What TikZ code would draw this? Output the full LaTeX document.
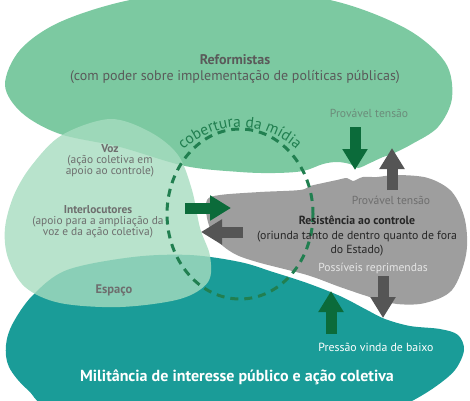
\documentclass[tikz,border=0pt]{standalone}
\usepackage{fontspec}
\setmainfont{PT Sans}
\usetikzlibrary{arrows.meta,decorations.text}
\definecolor{reformgreen}{HTML}{7CC9A1}
\definecolor{vozgreen}{HTML}{A6DCBF}
\definecolor{militeal}{HTML}{1A9C98}
\definecolor{resistgrey}{HTML}{9E9E9E}
\definecolor{arrowgreen}{HTML}{0B6B3A}
\definecolor{arrowgrey}{HTML}{555555}
\definecolor{mediagreen}{HTML}{217F50}
\definecolor{labelgrey}{HTML}{5A5A5A}
\definecolor{softgrey}{HTML}{6E6E6E}
\definecolor{tensiongreen}{HTML}{6B8C7A}
\begin{document}
\begin{tikzpicture}[x=1pt,y=-1pt,
    blob/.style={smooth cycle,tension=0.55},
    bigarrow/.style={line width=11pt,-{Triangle[width=24pt,length=21pt]}},
    greenarrow/.style={bigarrow,arrowgreen},
    greyarrow/.style={bigarrow,arrowgrey},
    smalltext/.style={font=\fontsize{11.4}{11.2}\selectfont,align=center,softgrey,inner sep=0pt},
    tensiontext/.style={font=\fontsize{11.6}{13}\selectfont,inner sep=0pt}]
    \useasboundingbox (0,0) rectangle (470,400);
    \clip (0,0) rectangle (470,400);
    \fill [reformgreen] plot[blob] coordinates {(5,85) (20,50) (60,22) (130,0) (225,-12) (330,0) (405,28) (445,62) (452,98) (438,127) (412,144) (392,154) (383,157) (370,163) (358,168) (350,164) (337,162) (323,164) (303,171) (275,173) (240,172) (185,166) (120,147) (60,134) (22,113)};
    \fill [militeal] plot[blob] coordinates {(13,323) (33,295) (67,270) (133,257) (190,255) (240,262) (273,272) (307,283) (340,296) (367,310) (385,319) (410,326) (440,329) (458,335) (464,350) (455,370) (435,387) (410,402) (380,415) (200,420) (60,410) (28,390) (9,367) (6,345)};
    \fill [resistgrey] plot[blob] coordinates {(207,200) (220,195) (260,192) (300,190) (310,186) (323,183) (337,180) (347,178) (353,181) (363,177) (377,177) (397,175) (428,178) (452,192) (465,220) (466,255) (452,290) (425,303) (397,304) (373,298) (340,287) (307,275) (257,262) (233,253) (215,238) (207,218)};
    \fill [vozgreen, opacity=0.8] plot[blob] coordinates {(110,119) (150,132) (178,155) (192,190) (200,228) (210,256) (208,282) (180,299) (120,307) (60,303) (25,287) (8,258) (5,228) (14,195) (32,165) (62,135)};
    \draw [mediagreen, line width=3pt, dash pattern=on 8pt off 6pt] (240,214) ellipse [x radius=73, y radius=85];
    \path [decorate, decoration={text along path, text align=center,
        text={|\fontsize{15.5}{15.5}\selectfont\color{mediagreen}|cobertura da mídia}}]
        (161,185) arc [start angle=200, end angle=340, x radius=84, y radius=88];
    \node [font=\fontsize{14}{15.5}\selectfont, align=center, labelgrey, inner sep=0pt] (reform) at (235,69)
        {\textbf{Reformistas}\\(com poder sobre implementação de políticas públicas)};
    \node [tensiontext, tensiongreen] (tensaoreform) at (369,113) {Provável tensão};
    \node [smalltext] (voz) at (110,161) {\textbf{Voz}\\(ação coletiva em\\apoio ao controle)};
    \node [smalltext] (interloc) at (98,222) {\textbf{Interlocutores}\\(apoio para a ampliação da\\voz e da ação coletiva)};
    \node [font=\fontsize{12.5}{14}\selectfont\bfseries, softgrey, inner sep=0pt] (espaco) at (114,290) {Espaço};
    \node [tensiontext, softgrey] (tensaoresist) at (391,200) {Provável tensão};
    \node [font=\fontsize{11.8}{14.5}\selectfont, align=center, black!85, inner sep=0pt] (resist) at (357,236)
        {\textbf{Resistência ao controle}\\(oriunda tanto de dentro quanto de fora\\do Estado)};
    \node [tensiontext, white!90!black] (reprim) at (373,268) {Possíveis reprimendas};
    \node [font=\fontsize{11.8}{14}\selectfont, white, inner sep=0pt] (pressao) at (376,347) {Pressão vinda de baixo};
    \node [font=\fontsize{16}{18}\selectfont\bfseries, white, inner sep=0pt] (milit) at (237,377)
        {Militância de interesse público e ação coletiva};
    \coordinate (voztail) at (185,208);
    \coordinate (voztip) at (231,208);
    \coordinate (resisttail) at (243,232);
    \coordinate (resisttip) at (201,232);
    \coordinate (downtail) at (355,127);
    \coordinate (downtip) at (355,170);
    \coordinate (uptail) at (392,190);
    \coordinate (uptip) at (392,148);
    \coordinate (reprimtail) at (383,276);
    \coordinate (reprimtip) at (383,318);
    \coordinate (pressaotail) at (331,334);
    \coordinate (pressaotip) at (331,291);
    \draw [greenarrow] (voztail) -- (voztip);
    \draw [greyarrow] (resisttail) -- (resisttip);
    \draw [greenarrow] (downtail) -- (downtip);
    \draw [greyarrow] (uptail) -- (uptip);
    \draw [greyarrow] (reprimtail) -- (reprimtip);
    \draw [greenarrow] (pressaotail) -- (pressaotip);
\end{tikzpicture}
\end{document}
